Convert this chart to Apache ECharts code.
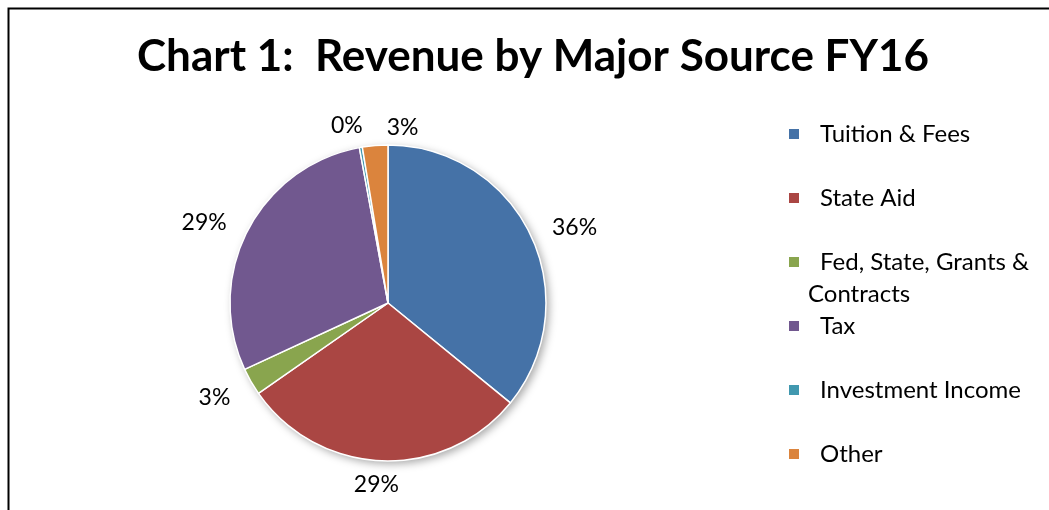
<!DOCTYPE html>
<html>
<head>
<meta charset="utf-8">
<script src="https://cdn.jsdelivr.net/npm/echarts@6/dist/echarts.min.js"></script>
<style>
  html, body { margin: 0; padding: 0; background: #fff; }
  #chart { width: 1049px; height: 510px; }
</style>
</head>
<body>
<div id="chart"></div>
<script>
// Revenue shares by major source, FY16 (percent of total)
const sources = ['Tuition & Fees', 'State Aid', 'Fed, State, Grants & Contracts', 'Tax', 'Investment Income', 'Other'];
const shares = [35.9, 29.4, 2.8, 29.0, 0.3, 2.6];
const sliceColors = ['#4572A7', '#AA4643', '#89A54E', '#71588F', '#4198AF', '#DB843D'];
const titleText = 'Chart 1:  Revenue by Major Source FY16';

const FONT = 'Lato';
const LEGEND_SIZE = 24;

const chart = echarts.init(document.getElementById('chart'), null, { renderer: 'canvas' });

// each legend entry is three 32px lines so the marker sits on the first text line
const legendLabel = function (name) {
  if (name === 'Fed, State, Grants & Contracts') {
    return '{b| }\n{p|Fed, State, Grants &}\n{n|Contracts}';
  }
  return '{b| }\n{p|' + name + '}\n{b| }';
};

const option = {
  backgroundColor: '#ffffff',
  animation: false,
  color: sliceColors,
  title: {
    text: titleText,
    left: 137,
    top: 35,
    padding: 0,
    textStyle: { fontFamily: FONT, fontWeight: 'bold', fontSize: 44, color: '#000' }
  },
  legend: {
    orient: 'vertical',
    left: 787,
    top: 86,
    padding: 0,
    itemGap: -32,
    itemWidth: 12,
    itemHeight: 12,
    icon: 'rect',
    selectedMode: false,
    data: sources,
    formatter: legendLabel,
    textStyle: {
      fontFamily: FONT,
      fontSize: LEGEND_SIZE,
      color: '#000',
      lineHeight: 32,
      rich: {
        b: { fontFamily: FONT, fontSize: LEGEND_SIZE, lineHeight: 32 },
        p: { fontFamily: FONT, fontSize: LEGEND_SIZE, lineHeight: 32, color: '#000', padding: [0, 0, 0, 15] },
        n: { fontFamily: FONT, fontSize: LEGEND_SIZE, lineHeight: 32, color: '#000', padding: [0, 0, 0, 3] }
      }
    }
  },
  graphic: [{
    type: 'rect',
    left: 6,
    top: 6,
    shape: { x: 0, y: 0, width: 1200, height: 700 },
    style: { fill: 'none', stroke: '#000', lineWidth: 2 },
    silent: true
  }],
  series: [
    {
      // soft drop shadow under the whole pie
      type: 'pie',
      name: 'shadow',
      center: [388, 303],
      radius: [0, 158],
      silent: true,
      z: 1,
      label: { show: false },
      labelLine: { show: false },
      data: [{
        value: shares.reduce((a, b) => a + b, 0),
        name: 'total',
        itemStyle: {
          color: '#ffffff',
          shadowBlur: 8,
          shadowOffsetX: 3,
          shadowOffsetY: 3,
          shadowColor: 'rgba(0,0,0,0.35)'
        }
      }]
    },
    {
      type: 'pie',
      name: 'Revenue',
      center: [388, 303],
      radius: [0, 158],
      startAngle: 90,
      clockwise: true,
      z: 2,
      percentPrecision: 0,
      avoidLabelOverlap: false,
      itemStyle: { borderColor: '#ffffff', borderWidth: 1.5 },
      label: {
        show: true,
        position: 'outside',
        formatter: '{d}%',
        fontFamily: FONT,
        fontSize: 23,
        color: '#000'
      },
      labelLine: { show: false, length: 18, length2: 0 },
      emphasis: { disabled: true },
      labelLayout: function (params) {
        if (params.dataIndex === 1) return { align: 'center', dy: 6 };
        if (params.dataIndex === 2) return { dy: 7 };
        if (params.dataIndex === 4) return { dx: 10, dy: -4 };
        if (params.dataIndex === 5) return { align: 'left', dx: 18 };
        return {};
      },
      data: sources.map((name, i) => ({ name: name, value: shares[i] }))
    }
  ]
};

chart.setOption(option);
</script>
</body>
</html>
